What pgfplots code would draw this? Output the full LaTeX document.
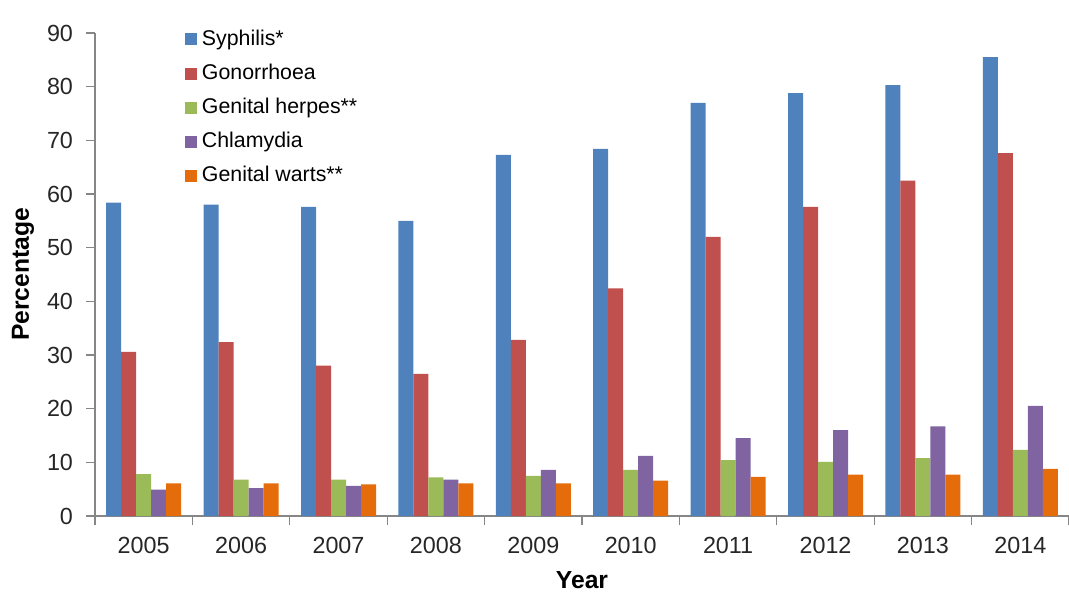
\documentclass[border=0pt]{standalone}
\usepackage{fontspec}
\setmainfont{Liberation Sans}
\usepackage{pgfplots}
\pgfplotsset{compat=1.18}
\definecolor{cblue}{HTML}{4F81BD}
\definecolor{cred}{HTML}{C0504D}
\definecolor{cgreen}{HTML}{9BBB59}
\definecolor{cpurple}{HTML}{8064A2}
\definecolor{corange}{HTML}{E46C0A}
\definecolor{axgray}{HTML}{868686}
\begin{document}
\begin{tikzpicture}
\useasboundingbox (0,0) rectangle (801.75pt,444pt);
\begin{axis}[
  at={(71.25pt,57pt)}, anchor=south west,
  scale only axis, width=730.5pt, height=362.25pt,
  ybar=0pt, bar width=0.154,
  xmin=-0.5, xmax=9.5, ymin=0, ymax=90,
  xtick={-0.5,0.5,...,9.5},
  xticklabels={2005,2006,2007,2008,2009,2010,2011,2012,2013,2014},
  x tick label as interval,
  ytick={0,10,...,90},
  axis x line*=bottom, axis y line*=left,
  axis line style={axgray, line width=1pt, -},
  tick style={axgray, line width=1pt},
  tick align=outside, major tick length=6.5pt,
  /pgf/number format/assume math mode=true,
  tick label style={font=\fontsize{17.5}{21}\selectfont, text=black!85},
  xticklabel style={yshift=-6pt},
  yticklabel style={xshift=-6.5pt},
  xlabel={Year}, ylabel={Percentage},
  xlabel style={font=\fontsize{18.5}{22}\selectfont\bfseries, at={(axis description cs:0.5,-0.132)}, anchor=center},
  ylabel style={font=\fontsize{18.5}{22}\selectfont\bfseries, at={(axis description cs:-0.074,0.5)}, anchor=center},
  legend cell align=left,
  legend style={draw=none, fill=none, at={(axis description cs:0.088,1.014)}, anchor=north west,
    font=\fontsize{16}{19}\selectfont, row sep=10.1pt,
    nodes={inner sep=0pt, text height=12pt, text depth=3.5pt}},
  legend image code/.code={\fill[#1] (0pt,-4.5pt) rectangle (9pt,4.5pt); \path (12.75pt,0pt);},
]
\addplot[fill=cblue, draw=none] coordinates {(0,58.4) (1,58.0) (2,57.6) (3,55.0) (4,67.3) (5,68.4) (6,77.0) (7,78.8) (8,80.3) (9,85.5)};
\addplot[fill=cred, draw=none] coordinates {(0,30.6) (1,32.4) (2,28.0) (3,26.5) (4,32.8) (5,42.4) (6,52.0) (7,57.6) (8,62.5) (9,67.6)};
\addplot[fill=cgreen, draw=none] coordinates {(0,7.8) (1,6.8) (2,6.8) (3,7.2) (4,7.5) (5,8.6) (6,10.4) (7,10.1) (8,10.8) (9,12.3)};
\addplot[fill=cpurple, draw=none] coordinates {(0,4.9) (1,5.2) (2,5.6) (3,6.8) (4,8.6) (5,11.2) (6,14.5) (7,16.0) (8,16.7) (9,20.5)};
\addplot[fill=corange, draw=none] coordinates {(0,6.1) (1,6.1) (2,5.9) (3,6.1) (4,6.1) (5,6.6) (6,7.3) (7,7.7) (8,7.7) (9,8.8)};
\legend{Syphilis*, Gonorrhoea, Genital herpes**, Chlamydia, Genital warts**}
\end{axis}
\end{tikzpicture}
\end{document}
